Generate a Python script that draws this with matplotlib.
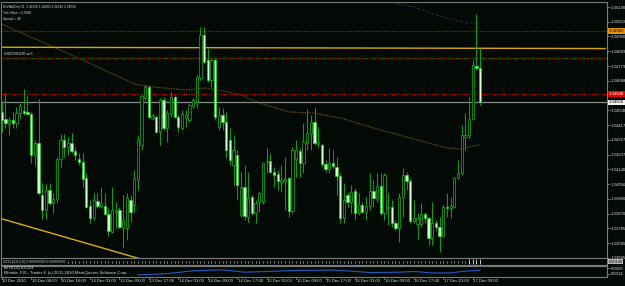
import matplotlib
matplotlib.use('Agg')
import matplotlib.pyplot as plt
from matplotlib.transforms import blended_transform_factory
import numpy as np

# ---------------- data ----------------
opens = [1.34498,1.34455,1.34424,1.34449,1.34430,1.34491,1.34504,1.34498,1.34485,1.34234,
         1.34308,1.33990,1.33898,1.34020,1.33941,1.33965,1.34210,1.34326,1.34283,1.34308,
         1.34259,1.34210,1.34192,1.34094,1.33922,1.33849,1.33953,1.33922,1.33922,1.33873,
         1.33763,1.33886,1.33898,1.33788,1.33788,1.33959,1.33928,1.34081,1.34296,1.34583,
         1.34651,1.34461,1.34467,1.34375,1.34571,1.34400,1.34485,1.34589,1.34467,1.34400,
         1.34461,1.34449,1.34534,1.34559,1.34706,1.34969,1.34816,1.34693,1.34816,1.34406,
         1.34479,1.34436,1.34326,1.34173,1.34234,1.33867,1.34039,1.33855,1.33977,1.33879,
         1.33947,1.33947,1.34192,1.34198,1.34130,1.34118,1.34069,1.34075,1.34094,1.33892,
         1.34210,1.34259,1.34185,1.34308,1.34363,1.34436,1.34302,1.34296,1.34179,1.34149,
         1.34185,1.34161,1.34106,1.33849,1.33990,1.33947,1.34014,1.33879,1.33928,1.33892,
         1.33922,1.34014,1.33971,1.34045,1.33879,1.33910,1.33916,1.33818,1.33788,1.33977,
         1.34112,1.34075,1.33830,1.33812,1.33812,1.33873,1.33849,1.33726,1.33818,1.33794,
         1.33739,1.33916,1.33910,1.33916,1.34094,1.34124,1.34345,1.34357,1.34455,1.34779,
         1.34769]
highs = [1.34553,1.34614,1.34467,1.34498,1.34528,1.34553,1.34638,1.34596,1.34498,1.34326,
         1.34577,1.34063,1.34057,1.34063,1.34002,1.34222,1.34363,1.34363,1.34345,1.34369,
         1.34283,1.34247,1.34247,1.34124,1.33959,1.34002,1.34002,1.34039,1.34002,1.33910,
         1.34039,1.33947,1.33916,1.33990,1.34002,1.33990,1.34143,1.34357,1.34608,1.34663,
         1.34663,1.34491,1.34479,1.34583,1.34589,1.34510,1.34620,1.34602,1.34479,1.34510,
         1.34510,1.34553,1.34583,1.34724,1.35018,1.35018,1.34889,1.34828,1.34828,1.34528,
         1.34522,1.34498,1.34400,1.34357,1.34265,1.34130,1.34173,1.34130,1.33990,1.33959,
         1.34014,1.34192,1.34277,1.34247,1.34161,1.34143,1.34173,1.34222,1.34100,1.34283,
         1.34326,1.34277,1.34430,1.34516,1.34479,1.34528,1.34406,1.34308,1.34204,1.34277,
         1.34265,1.34222,1.34124,1.34063,1.34008,1.34051,1.34032,1.34002,1.33947,1.33977,
         1.34124,1.34081,1.34124,1.34124,1.34124,1.34002,1.33959,1.33837,1.34002,1.34155,
         1.34130,1.34094,1.33959,1.33879,1.33941,1.33886,1.33855,1.33947,1.33837,1.33855,
         1.33928,1.34002,1.33977,1.34100,1.34204,1.34418,1.34491,1.34589,1.34816,1.35097,
         1.34890]
lows = [1.34375,1.34400,1.34357,1.34400,1.34400,1.34461,1.34479,1.34479,1.34185,1.34173,
        1.33990,1.33843,1.33843,1.33928,1.33879,1.33941,1.34161,1.34222,1.34234,1.34247,
        1.34204,1.34173,1.34039,1.33910,1.33818,1.33837,1.33910,1.33910,1.33867,1.33739,
        1.33757,1.33788,1.33788,1.33665,1.33714,1.33824,1.33886,1.34020,1.34265,1.34571,
        1.34461,1.34449,1.34369,1.34296,1.34387,1.34314,1.34467,1.34461,1.34375,1.34387,
        1.34406,1.34436,1.34522,1.34522,1.34693,1.34797,1.34681,1.34651,1.34449,1.34387,
        1.34387,1.34216,1.34173,1.34051,1.33959,1.33855,1.33837,1.33824,1.33867,1.33818,
        1.33886,1.33935,1.34124,1.34124,1.34039,1.34020,1.34008,1.33898,1.33855,1.33879,
        1.34100,1.34100,1.34124,1.34265,1.34265,1.34296,1.34283,1.34161,1.34130,1.34124,
        1.34155,1.33990,1.33818,1.33818,1.33916,1.33879,1.33843,1.33867,1.33879,1.33837,
        1.33898,1.33916,1.33947,1.33867,1.33837,1.33806,1.33794,1.33775,1.33702,1.33855,
        1.34020,1.33818,1.33818,1.33714,1.33794,1.33818,1.33684,1.33684,1.33775,1.33641,
        1.33733,1.33855,1.33849,1.33910,1.34087,1.34112,1.34265,1.34338,1.34449,1.34755,
        1.34540]
closes = [1.34449,1.34430,1.34449,1.34430,1.34491,1.34534,1.34491,1.34485,1.34234,1.34308,
          1.34002,1.33898,1.34020,1.33941,1.33965,1.34210,1.34326,1.34283,1.34308,1.34259,
          1.34234,1.34192,1.34087,1.33916,1.33849,1.33959,1.33922,1.33941,1.33873,1.33769,
          1.33898,1.33898,1.33794,1.33837,1.33971,1.33886,1.34094,1.34326,1.34596,1.34651,
          1.34467,1.34473,1.34375,1.34571,1.34400,1.34491,1.34589,1.34467,1.34406,1.34491,
          1.34479,1.34540,1.34571,1.34712,1.34969,1.34804,1.34693,1.34816,1.34467,1.34479,
          1.34436,1.34265,1.34204,1.34265,1.34051,1.34039,1.33861,1.33971,1.33879,1.33941,
          1.34002,1.34185,1.34198,1.34130,1.34112,1.34075,1.34081,1.34087,1.33892,1.34265,
          1.34265,1.34185,1.34314,1.34369,1.34436,1.34308,1.34314,1.34179,1.34149,1.34185,
          1.34167,1.34106,1.33849,1.33959,1.33947,1.34008,1.33879,1.33928,1.33886,1.33922,
          1.34014,1.33971,1.34045,1.33879,1.34112,1.33916,1.33818,1.33788,1.33977,1.34112,
          1.34075,1.33830,1.33849,1.33849,1.33873,1.33849,1.33726,1.33818,1.33794,1.33739,
          1.33916,1.33910,1.33922,1.34094,1.34124,1.34357,1.34357,1.34455,1.34785,1.34769,
          1.34556]

time_labels = ["10 Dec 2010", "10 Dec 08:00", "10 Dec 16:00", "13 Dec 01:00", "13 Dec 09:00",
               "13 Dec 17:00", "14 Dec 01:00", "14 Dec 09:00", "14 Dec 17:00", "15 Dec 01:00",
               "15 Dec 09:00", "15 Dec 17:00", "16 Dec 01:00", "16 Dec 09:00", "16 Dec 17:00",
               "17 Dec 01:00", "17 Dec 09:00"]
time_label_bars = [0, 8, 16, 24, 32, 40, 48, 56, 64, 72, 80, 88, 96, 104, 112, 120, 128]

# price scale labels (the one at 1.34598 is hidden behind the red price tag)
price_ticks = [1.35140, 1.35050, 1.34960, 1.34869, 1.34779, 1.34688, 1.34508, 1.34417,
               1.34327, 1.34237, 1.34146, 1.34056, 1.33966, 1.33876, 1.33785, 1.33695, 1.33605]

ma_bars = [0, 22, 32, 35, 37, 41, 50, 55, 59, 65, 70, 78, 85, 92, 101, 108, 116, 121, 125, 128, 130]
ma_vals = [1.35036, 1.34816, 1.34712, 1.34681, 1.34663, 1.34651, 1.34632, 1.34644, 1.34632, 1.34602,
           1.34553, 1.34498, 1.34491, 1.34461, 1.34400, 1.34357, 1.34308, 1.34277, 1.34271, 1.34290,
           1.34296]
ma2_bars = [103, 106, 109, 112, 115, 118, 121, 124, 127, 130]
ma2_vals = [1.35195, 1.35171, 1.35152, 1.35140, 1.35116, 1.35091, 1.35073, 1.35054, 1.35042, 1.35042]

level_orange = 1.34993
level_sell = 1.34828
level_red = 1.34608
level_bid = 1.34556
gold_line = ([0, 164], [1.34894, 1.34886])
trend_line = ([0, 35], [1.33844, 1.33616])

hist_big_bars = [127, 128, 129, 130]

atr_bars = [37, 45, 52, 60, 66, 72, 80, 90, 95, 100, 108, 112, 117, 122, 125, 130]
atr_vals = [0.0010, 0.0014, 0.0022, 0.0025, 0.0018, 0.0020, 0.0023, 0.0024, 0.0021, 0.0017,
            0.0018, 0.0020, 0.0016, 0.0016, 0.0020, 0.0024]
atr_ticks = [0.0029, 0.0014]

# ---------------- style ----------------
W, H = 625, 286
BG = '#030905'
GRAY = '#7a7a7a'
TXT = '#d8d8d8'
WICK = '#119a11'
BULL_EDGE = '#12a812'
BEAR_FILL = '#d2ffd2'
BEAR_EDGE = '#22d022'
FS = 3.1      # axis / label text
FS_S = 2.3    # header text
FAM = ['Liberation Sans Narrow', 'Liberation Sans', 'DejaVu Sans']

plt.rcParams['font.family'] = FAM
fig = plt.figure(figsize=(W / 100, H / 100), dpi=100, facecolor=BG)


def px_axes(x0, y0, x1, y1):
    ax = fig.add_axes([x0 / W, 1 - y1 / H, (x1 - x0) / W, (y1 - y0) / H])
    ax.set_facecolor(BG)
    for s in ax.spines.values():
        s.set_color(GRAY)
        s.set_linewidth(0.8)
    return ax

XL = (-0.19, 164.48)
main = px_axes(1, 2, 607, 258)
main.set_xlim(*XL)
main.set_ylim(1.33604, 1.35171)

n = len(opens)
xs = np.arange(n)
o = np.array(opens); c = np.array(closes); h = np.array(highs); l = np.array(lows)

# MA lines
main.plot(ma_bars, ma_vals, color='#5a4a10', lw=0.9, ls=(0, (1.2, 0.8)), zorder=2)
main.plot(ma2_bars, ma2_vals, color='#22224a', lw=0.9, ls=(0, (2.5, 1.5)), zorder=2)

# horizontal levels
main.axhline(level_orange, color='#7a3a00', lw=0.9, ls=(0, (1, 1.2)), zorder=2)
main.plot(*gold_line, color='#d8a800', lw=1.0, zorder=2)
main.axhline(level_sell, color='#7a0000', lw=1.0, ls=(0, (3, 3)), zorder=2)
main.axhline(level_sell, color='#0a5a0a', lw=1.0, ls=(3, (3, 3)), zorder=2)
main.axhline(level_red, color='#d00000', lw=0.9, ls=(0, (1, 1)), zorder=2)
main.axhline(level_bid, color='#8a8a8a', lw=0.9, zorder=2)
slope = (trend_line[1][1] - trend_line[1][0]) / (trend_line[0][1] - trend_line[0][0])
main.plot([XL[0], 60], [trend_line[1][0] + slope * (XL[0] - trend_line[0][0]),
                        trend_line[1][0] + slope * (60 - trend_line[0][0])],
          color='#e0b000', lw=1.0, zorder=2)

# candles
main.vlines(xs, l, h, color=WICK, lw=0.8, zorder=3)
bull = c >= o
bear = ~bull
main.bar(xs[bull], c[bull] - o[bull], bottom=o[bull], width=0.62, color=BG,
         edgecolor=BULL_EDGE, linewidth=0.55, zorder=4)
main.bar(xs[bear], o[bear] - c[bear], bottom=c[bear], width=0.62, color=BEAR_FILL,
         edgecolor=BEAR_EDGE, linewidth=0.55, zorder=4)

main.set_xticks([])
main.yaxis.tick_right()
main.set_yticks(price_ticks)
main.set_yticklabels([f"{v:.5f}" for v in price_ticks])
main.tick_params(axis='y', colors=GRAY, labelcolor=TXT, labelsize=FS, length=2.0, width=0.6, pad=0.6)

tr = blended_transform_factory(main.transAxes, main.transData)
for val, fc, tc in [(level_orange, '#e89000', '#000000'), (level_red, '#e00000', '#ffffff'),
                    (level_bid, '#f0f0f0', '#000000')]:
    main.text(1.0025, val, f"{val:.5f}", transform=tr, fontsize=FS, color=tc, va='center', ha='left',
              bbox=dict(boxstyle='square,pad=0.2', fc=fc, ec='none'), zorder=10, clip_on=False)

main.text(0.003, 0.99, "EURAUDm,H1  1.34769 1.34890 1.34540 1.34556", transform=main.transAxes,
          fontsize=FS_S, color=TXT, va='top', ha='left')
main.text(0.003, 0.965, "Tick Value = 0.0986", transform=main.transAxes, fontsize=FS_S, color=TXT,
          va='top', ha='left')
main.text(0.003, 0.94, "Spread = 48", transform=main.transAxes, fontsize=FS_S, color=TXT,
          va='top', ha='left')
main.text(0.005, level_sell + 0.00012, "#40789100 sell", fontsize=FS, color=TXT, va='bottom', ha='left',
          transform=tr)

# small histogram indicator window
zz = px_axes(1, 258, 607, 265)
zz.set_xlim(*XL)
zz.set_ylim(0, 1)
zz.set_xticks([]); zz.set_yticks([])
small = [b for b in xs if b not in hist_big_bars]
zz.vlines(small, 0.3, 0.55, color='#a8a8a8', lw=0.6)
zz.vlines(hist_big_bars, 0.2, 0.8, color='#c8c8c8', lw=0.7)
zz.text(0.003, 0.5, "ZZ2C(3,0,5,0) 0.00000000 0.00000000", transform=zz.transAxes, fontsize=FS - 0.5,
        color=TXT, va='center', ha='left', bbox=dict(boxstyle='square,pad=0.1', fc=BG, ec='none'))
zz.text(1.0025, 0.45, "0.00149", transform=zz.transAxes, fontsize=FS - 0.3, color='#000000', va='center',
        ha='left', bbox=dict(boxstyle='square,pad=0.1', fc='#b8b8b8', ec='none'), clip_on=False)

# ATR window
atr = px_axes(1, 266, 607, 277)
atr.set_xlim(*XL)
atr.set_ylim(0.0004, 0.0036)
atr.plot(atr_bars, atr_vals, color='#1c5cc0', lw=0.8)
atr.set_xticks([])
atr.yaxis.tick_right()
atr.set_yticks(atr_ticks)
atr.set_yticklabels([f"{v:.4f}" for v in atr_ticks])
atr.tick_params(axis='y', colors=GRAY, labelcolor=TXT, labelsize=FS, length=2.0, width=0.6, pad=0.6)
atr.text(0.005, 0.78, "ATR(14) 0.0024", transform=atr.transAxes, fontsize=FS, color=TXT, va='center', ha='left')
atr.text(0.005, 0.4, "Mirinda, FXL, Trader 4, (c) 2001-2010 MetaQuotes Software Corp.",
         transform=atr.transAxes, fontsize=FS, color=TXT, va='center', ha='left')

# time axis labels
for b, s in zip(time_label_bars, time_labels):
    xpix = 1 + (b - XL[0]) / (XL[1] - XL[0]) * 606
    fig.text((xpix + 0.5) / W, 1 - 281.5 / H, s, fontsize=FS, color=TXT, va='center', ha='left')
    fig.add_artist(plt.Line2D([xpix / W, xpix / W], [1 - 277 / H, 1 - 279 / H], color=GRAY, lw=0.6))

fig.savefig('out.png', dpi=100, facecolor=BG)
